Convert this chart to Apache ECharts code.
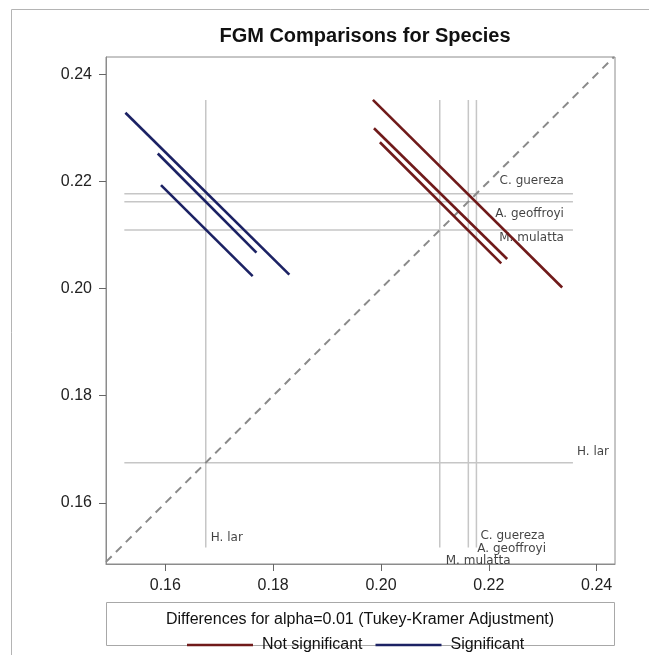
<!DOCTYPE html>
<html>
<head>
<meta charset="utf-8">
<script src="https://cdn.jsdelivr.net/npm/echarts@6/dist/echarts.min.js"></script>
<style>
html,body{margin:0;padding:0;background:#fff}
#chart{width:649px;height:655px}
</style>
</head>
<body>
<div id="chart"></div>
<script>
// species and their FGM means
const species = ['H. lar', 'M. mulatta', 'A. geoffroyi', 'C. guereza'];
const means = [0.1675, 0.2109, 0.2162, 0.2177];
// extent of the reference lines
const vSpan = [0.1517, 0.2352];
const hSpan = [0.1524, 0.2356];
// pairwise comparisons: [x species, y species]
const diffPairs = [[0, 3], [0, 2], [0, 1], [2, 3], [1, 3], [1, 2]];
const diffSig = [true, true, true, false, false, false];
const diffX = [[0.1526, 0.1830], [0.1586, 0.1769], [0.1592, 0.1762], [0.1985, 0.2336], [0.1987, 0.2234], [0.1998, 0.2223]];
const diffY = [[0.2328, 0.2026], [0.2252, 0.2067], [0.2193, 0.2023], [0.2352, 0.2002], [0.2299, 0.2055], [0.2273, 0.2047]];
const tickVals = [0.16, 0.18, 0.20, 0.22, 0.24];
const axisMinX = 0.1490, axisMaxX = 0.2434;
const axisMinY = 0.1486, axisMaxY = 0.2432;

const sigName = ['Not significant', 'Significant'];
const sigColor = ['#701a1a', '#1c2264'];

let chart = echarts.init(document.getElementById('chart'));

// label placement for the reference line names (pixels)
const vLabOff = [[5, -10, 'left'], [6, 13, 'left'], [9, 1, 'left'], [4, -12, 'left']];
const hLabOff = [[4, -11, 'left'], [-9, 8, 'right'], [-9, 12, 'right'], [-9, -13, 'right']];

let series = [];
species.forEach(function (s, i) {
  series.push({
    type: 'line', silent: true, symbol: 'none', z: 1,
    data: [[means[i], vSpan[0]], [means[i], vSpan[1]]],
    lineStyle: { color: '#c6c6c6', width: 1.5 }
  });
  series.push({
    type: 'line', silent: true, symbol: 'none', z: 1,
    data: [[hSpan[0], means[i]], [hSpan[1], means[i]]],
    lineStyle: { color: '#c6c6c6', width: 1.5 }
  });
});

let labData = [];
species.forEach(function (s, i) {
  labData.push({
    name: s, value: [means[i], vSpan[0]],
    label: { align: vLabOff[i][2], offset: [vLabOff[i][0], vLabOff[i][1]] }
  });
  labData.push({
    name: s, value: [hSpan[1], means[i]],
    label: { align: hLabOff[i][2], offset: [hLabOff[i][0], hLabOff[i][1]] }
  });
});
series.push({
  type: 'scatter', silent: true, z: 3,
  symbolSize: 1,
  itemStyle: { color: 'rgba(0,0,0,0)' },
  label: {
    show: true, position: 'inside', formatter: '{b}',
    verticalAlign: 'middle',
    fontFamily: 'DejaVu Sans', fontSize: 12, color: '#111'
  },
  data: labData
});

// diagonal reference
series.push({
  type: 'line', silent: true, symbol: 'none', z: 2,
  data: [[axisMinX, axisMinX], [axisMaxY, axisMaxY]],
  lineStyle: { color: '#8a8a8a', width: 2, type: [8, 6] }
});

diffPairs.forEach(function (p, k) {
  let g = diffSig[k] ? 1 : 0;
  series.push({
    name: sigName[g],
    type: 'line', symbol: 'none', z: 5,
    data: [[diffX[k][0], diffY[k][0]], [diffX[k][1], diffY[k][1]]],
    itemStyle: { color: sigColor[g] },
    lineStyle: { color: sigColor[g], width: 2.6 }
  });
});

let axisCommon = {
  type: 'value',
  axisLine: { show: true, lineStyle: { color: '#8c8c8c', width: 1 } },
  axisTick: { show: true, length: 7, customValues: tickVals, lineStyle: { color: '#666' } },
  axisLabel: {
    customValues: tickVals, color: '#222', fontSize: 16,
    fontFamily: 'Liberation Sans, Arial, sans-serif',
    formatter: function (v) { return v.toFixed(2); }
  },
  splitLine: { show: false }
};

chart.setOption({
  animation: false,
  title: {
    text: 'FGM Comparisons for Species',
    left: 360, top: 21, textAlign: 'center',
    textStyle: { fontFamily: 'Liberation Sans, Arial, sans-serif', fontSize: 20, fontWeight: 'bold', color: '#111' }
  },
  grid: {
    left: 106, right: 34, top: 57, bottom: 91,
    show: true, borderColor: '#8c8c8c', borderWidth: 1
  },
  xAxis: Object.assign({}, axisCommon, {
    min: axisMinX, max: axisMaxX,
    axisLabel: Object.assign({}, axisCommon.axisLabel, { margin: 14 })
  }),
  yAxis: Object.assign({}, axisCommon, {
    min: axisMinY, max: axisMaxY,
    axisLabel: Object.assign({}, axisCommon.axisLabel, { margin: 14 })
  }),
  legend: {
    data: sigName.map(function (n) { return { name: n, icon: 'rect' }; }),
    left: 182, top: 632,
    itemWidth: 66, itemHeight: 2.5, itemGap: 13,
    selectedMode: false,
    textStyle: { fontFamily: 'Liberation Sans, Arial, sans-serif', fontSize: 16, color: '#111', padding: [0, 0, 0, 4] }
  },
  graphic: [
    {
      type: 'rect', silent: true, z: -1,
      shape: { x: 11.5, y: 9.5, width: 700, height: 700 },
      style: { fill: 'none', stroke: '#b4b4b4', lineWidth: 1 }
    },
    {
      type: 'rect', silent: true,
      shape: { x: 106.5, y: 602.5, width: 508, height: 43 },
      style: { fill: 'none', stroke: '#a8a8a8', lineWidth: 1 }
    },
    {
      type: 'text', silent: true,
      x: 360, y: 620,
      style: {
        text: 'Differences for alpha=0.01 (Tukey-Kramer Adjustment)',
        align: 'center', verticalAlign: 'middle',
        font: '16px "Liberation Sans", Arial, sans-serif', fill: '#111'
      }
    }
  ],
  series: series
});
</script>
</body>
</html>
